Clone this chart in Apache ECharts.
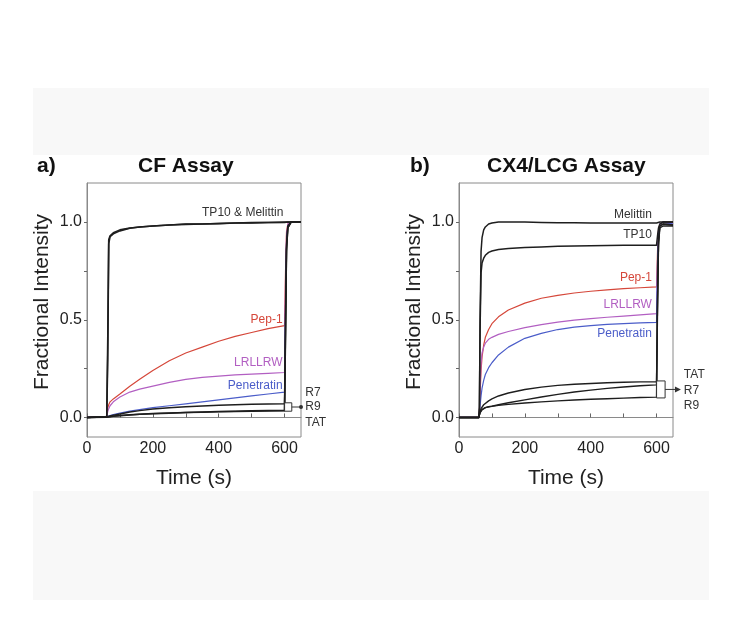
<!DOCTYPE html>
<html>
<head>
<meta charset="utf-8">
<script src="https://cdn.jsdelivr.net/npm/echarts@6/dist/echarts.min.js"></script>
<style>
  html, body { margin: 0; padding: 0; background: #fff; }
  #chart { width: 736px; height: 624px; }
</style>
</head>
<body>
<div id="chart"></div>
<script>
// time axis (s) for each panel
const timeA = [0, 60, 63, 66, 70, 80, 100, 130, 160, 200, 250, 300, 350, 400, 450, 500, 550, 600, 603, 606, 610, 620, 650];
const timeB = [0, 60, 62, 64, 67, 70, 75, 80, 90, 100, 120, 150, 200, 250, 300, 350, 400, 450, 500, 550, 600, 603, 606, 610, 620, 650];

// a) CF assay
const tp10A = [0, 0.005, 0.40, 0.91, 0.93, 0.945, 0.96, 0.97, 0.975, 0.98, 0.985, 0.99, 0.99, 0.993, 0.995, 0.997, 0.998, 1.0, 1.0, 1.0, 1.0, 1.0, 1.0];
const melittinA = [0, 0.005, 0.30, 0.89, 0.925, 0.94, 0.955, 0.968, 0.975, 0.98, 0.985, 0.988, 0.99, 0.992, 0.995, 0.996, 0.998, 0.998, 0.998, 0.999, 1.0, 1.0, 1.0];
const pep1A = [0, 0.005, 0.05, 0.065, 0.08, 0.095, 0.12, 0.16, 0.195, 0.24, 0.29, 0.33, 0.36, 0.39, 0.415, 0.435, 0.455, 0.47, 0.75, 0.95, 0.99, 1.0, 1.0];
const lrllrwA = [0, 0.005, 0.03, 0.045, 0.06, 0.08, 0.105, 0.13, 0.145, 0.16, 0.18, 0.195, 0.205, 0.212, 0.218, 0.222, 0.226, 0.23, 0.7, 0.93, 0.99, 1.0, 1.0];
const penetratinA = [0, 0.003, 0.005, 0.008, 0.01, 0.015, 0.022, 0.032, 0.04, 0.05, 0.06, 0.07, 0.08, 0.09, 0.1, 0.11, 0.12, 0.13, 0.6, 0.9, 0.98, 1.0, 1.0];
const r7A = [0, 0.003, 0.005, 0.007, 0.008, 0.012, 0.018, 0.028, 0.035, 0.043, 0.05, 0.055, 0.059, 0.062, 0.065, 0.067, 0.069, 0.07, 0.5, 0.88, 0.98, 1.0, 1.0];
const r9A = [0, 0.002, 0.003, 0.004, 0.005, 0.007, 0.01, 0.014, 0.017, 0.02, 0.023, 0.026, 0.028, 0.03, 0.032, 0.034, 0.035, 0.036, 0.45, 0.86, 0.97, 1.0, 1.0];
const tatA = [0, 0.001, 0.002, 0.003, 0.004, 0.006, 0.009, 0.013, 0.016, 0.019, 0.022, 0.025, 0.027, 0.029, 0.031, 0.032, 0.033, 0.034, 0.4, 0.85, 0.97, 1.0, 1.0];

// b) CX4/LCG assay
const melittinB = [0, 0, 0.05, 0.5, 0.85, 0.92, 0.96, 0.975, 0.99, 0.995, 1.0, 1.0, 1.0, 0.998, 0.997, 0.996, 0.995, 0.995, 0.995, 0.995, 0.995, 0.995, 0.998, 1.0, 1.0, 1.0];
const tp10B = [0, 0, 0.05, 0.45, 0.74, 0.79, 0.815, 0.83, 0.845, 0.852, 0.86, 0.865, 0.87, 0.873, 0.876, 0.878, 0.879, 0.88, 0.881, 0.882, 0.882, 0.93, 0.97, 0.99, 1.0, 1.0];
const pep1B = [0, 0, 0.03, 0.12, 0.24, 0.31, 0.37, 0.41, 0.45, 0.48, 0.515, 0.55, 0.585, 0.61, 0.625, 0.637, 0.646, 0.653, 0.659, 0.664, 0.668, 0.85, 0.96, 0.99, 1.0, 1.0];
const lrllrwB = [0, 0, 0.03, 0.15, 0.28, 0.33, 0.36, 0.38, 0.40, 0.41, 0.425, 0.44, 0.46, 0.475, 0.488, 0.498, 0.506, 0.513, 0.519, 0.525, 0.531, 0.8, 0.95, 0.99, 1.0, 0.99];
const penetratinB = [0, 0, 0.02, 0.06, 0.11, 0.15, 0.19, 0.22, 0.255, 0.28, 0.32, 0.36, 0.405, 0.43, 0.45, 0.462, 0.47, 0.476, 0.48, 0.484, 0.487, 0.8, 0.95, 0.99, 1.0, 0.99];
const tatB = [0, 0, 0.01, 0.03, 0.045, 0.055, 0.065, 0.075, 0.085, 0.095, 0.11, 0.125, 0.143, 0.155, 0.164, 0.17, 0.174, 0.178, 0.18, 0.182, 0.183, 0.6, 0.9, 0.98, 0.99, 0.985];
const r7B = [0, 0, 0.01, 0.025, 0.035, 0.04, 0.045, 0.05, 0.055, 0.058, 0.065, 0.075, 0.09, 0.105, 0.118, 0.13, 0.14, 0.149, 0.156, 0.162, 0.167, 0.6, 0.9, 0.98, 0.99, 0.985];
const r9B = [0, 0, 0.01, 0.025, 0.035, 0.04, 0.045, 0.05, 0.054, 0.057, 0.062, 0.067, 0.074, 0.08, 0.085, 0.089, 0.093, 0.096, 0.099, 0.102, 0.104, 0.55, 0.88, 0.97, 0.98, 0.98];

// tick labels
const xLabels = [0, 200, 400, 600];
const xTicks = [0, 100, 200, 300, 400, 500, 600];
const yLabels = [0, 0.5, 1.0];
const yTicks = [0, 0.25, 0.5, 0.75, 1.0];

const RED = '#d5473a', PURPLE = '#b25fc2', BLUE = '#4b5dc9', BLACK = '#1e1e1e';
const FONT = '"Liberation Sans", Arial, sans-serif';

// annotation text, anchored in data coordinates [time, value]
const notesA = [
  { text: 'TP10 & Melittin', at: [473, 1.05], color: '#333', align: 'center' },
  { text: 'Pep-1', at: [594, 0.50], color: RED, align: 'right' },
  { text: 'LRLLRW', at: [594, 0.28], color: PURPLE, align: 'right' },
  { text: 'Penetratin', at: [594, 0.161], color: BLUE, align: 'right' },
  { text: 'R7', at: [663, 0.125], color: '#333', align: 'left' },
  { text: 'R9', at: [663, 0.053], color: '#333', align: 'left' },
  { text: 'TAT', at: [663, -0.029], color: '#333', align: 'left' }
];
const notesB = [
  { text: 'Melittin', at: [586, 1.04], color: '#333', align: 'right' },
  { text: 'TP10', at: [586, 0.936], color: '#333', align: 'right' },
  { text: 'Pep-1', at: [586, 0.715], color: RED, align: 'right' },
  { text: 'LRLLRW', at: [586, 0.577], color: PURPLE, align: 'right' },
  { text: 'Penetratin', at: [586, 0.428], color: BLUE, align: 'right' },
  { text: 'TAT', at: [683, 0.217], color: '#333', align: 'left' },
  { text: 'R7', at: [683, 0.135], color: '#333', align: 'left' },
  { text: 'R9', at: [683, 0.058], color: '#333', align: 'left' }
];
// bracket boxes around the end of the R7/R9/TAT traces
const boxA = { t0: 600, t1: 622, v0: 0.032, v1: 0.075, arrowTo: 650 };
const boxB = { t0: 600, t1: 626, v0: 0.100, v1: 0.187, arrowTo: 662 };

function line(name, t, v, color, width, gi) {
  return {
    type: 'line', name: name, xAxisIndex: gi, yAxisIndex: gi,
    data: t.map((x, i) => [x, v[i]]),
    showSymbol: false, symbol: 'none', smooth: false,
    lineStyle: { color: color, width: width, join: 'round' },
    clip: true
  };
}

function xAxisFor(gi) {
  return {
    type: 'value', gridIndex: gi, min: 0, max: 650,
    name: 'Time (s)', nameLocation: 'middle', nameGap: 31,
    nameTextStyle: { fontSize: 21, color: '#222', fontFamily: FONT },
    axisLine: { lineStyle: { color: '#8a8a8a', width: 1 } },
    axisTick: { inside: true, length: 4, customValues: xTicks, lineStyle: { color: '#666' } },
    axisLabel: { customValues: xLabels, fontSize: 16, color: '#222', margin: 4, fontFamily: FONT },
    splitLine: { show: false }
  };
}
function yAxisFor(gi) {
  return {
    type: 'value', gridIndex: gi, min: -0.1, max: 1.2,
    name: 'Fractional Intensity', nameLocation: 'middle', nameGap: 34,
    nameTextStyle: { fontSize: 21, color: '#222', fontFamily: FONT, padding: [0, 0, 0, 16] },
    axisLine: { lineStyle: { color: '#8a8a8a', width: 1 } },
    axisTick: { inside: false, length: 3, customValues: yTicks, lineStyle: { color: '#666' } },
    axisLabel: { customValues: yLabels, fontSize: 16, color: '#222', margin: 5, fontFamily: FONT,
      formatter: v => v.toFixed(1) },
    splitLine: { show: false }
  };
}

const chart = echarts.init(document.getElementById('chart'), null, { renderer: 'canvas' });
const titleStyle = { fontSize: 21, fontWeight: 'bold', color: '#111', fontFamily: FONT };
chart.setOption({
  animation: false,
  backgroundColor: '#fff',
  textStyle: { fontFamily: FONT },
  title: [
    { text: 'a)', left: 37, top: 156, padding: 0, textStyle: titleStyle },
    { text: 'CF Assay', left: 138, top: 156, padding: 0, textStyle: titleStyle },
    { text: 'b)', left: 410, top: 156, padding: 0, textStyle: titleStyle },
    { text: 'CX4/LCG Assay', left: 487, top: 156, padding: 0, textStyle: titleStyle }
  ],
  grid: [
    { left: 87, top: 183, width: 214, height: 254, show: true, borderColor: '#8a8a8a', borderWidth: 1, backgroundColor: 'transparent' },
    { left: 459, top: 183, width: 214, height: 254, show: true, borderColor: '#8a8a8a', borderWidth: 1, backgroundColor: 'transparent' }
  ],
  xAxis: [xAxisFor(0), xAxisFor(1)],
  yAxis: [yAxisFor(0), yAxisFor(1)],
  series: [
    line('Pep-1', timeA, pep1A, RED, 1.2, 0),
    line('LRLLRW', timeA, lrllrwA, PURPLE, 1.2, 0),
    line('Penetratin', timeA, penetratinA, BLUE, 1.2, 0),
    line('R7', timeA, r7A, BLACK, 1.5, 0),
    line('R9', timeA, r9A, BLACK, 1.5, 0),
    line('TAT', timeA, tatA, BLACK, 1.5, 0),
    line('Melittin', timeA, melittinA, BLACK, 1.6, 0),
    line('TP10', timeA, tp10A, BLACK, 1.6, 0),

    line('Pep-1', timeB, pep1B, RED, 1.2, 1),
    line('LRLLRW', timeB, lrllrwB, PURPLE, 1.2, 1),
    line('Penetratin', timeB, penetratinB, BLUE, 1.2, 1),
    line('TAT', timeB, tatB, BLACK, 1.4, 1),
    line('R7', timeB, r7B, BLACK, 1.4, 1),
    line('R9', timeB, r9B, BLACK, 1.4, 1),
    line('TP10', timeB, tp10B, BLACK, 1.5, 1),
    line('Melittin', timeB, melittinB, BLACK, 1.5, 1)
  ]
});

// annotations: converted from data coordinates to pixels
const px = (gi, p) => chart.convertToPixel({ xAxisIndex: gi, yAxisIndex: gi }, p);
const graphics = [
  { type: 'rect', shape: { x: 33, y: 88, width: 676, height: 67 }, style: { fill: '#f8f8f8' }, z: -10, silent: true },
  { type: 'rect', shape: { x: 33, y: 491, width: 676, height: 109 }, style: { fill: '#f8f8f8' }, z: -10, silent: true }
];
function addNotes(gi, notes) {
  notes.forEach(n => {
    const p = px(gi, n.at);
    graphics.push({
      type: 'text', x: p[0], y: p[1], z: 10,
      style: { text: n.text, fill: n.color, font: '12px ' + FONT, textAlign: n.align, textVerticalAlign: 'middle' }
    });
  });
}
function addBox(gi, b, arrowHead) {
  const a = px(gi, [b.t0, b.v1]), c = px(gi, [b.t1, b.v0]);
  const mid = (a[1] + c[1]) / 2;
  const end = px(gi, [b.arrowTo, 0])[0];
  graphics.push({ type: 'rect', z: 10, shape: { x: a[0], y: a[1], width: c[0] - a[0], height: c[1] - a[1] },
    style: { fill: 'rgba(255,255,255,0.9)', stroke: '#333', lineWidth: 1 } });
  graphics.push({ type: 'line', z: 10, shape: { x1: c[0], y1: mid, x2: end, y2: mid }, style: { stroke: '#333', lineWidth: 1 } });
  if (arrowHead) {
    graphics.push({ type: 'polygon', z: 10, shape: { points: [[end + 4, mid], [end - 2, mid - 3], [end - 2, mid + 3]] }, style: { fill: '#333' } });
  } else {
    graphics.push({ type: 'circle', z: 10, shape: { cx: end, cy: mid, r: 2 }, style: { fill: '#333' } });
  }
}
addNotes(0, notesA);
addNotes(1, notesB);
addBox(0, boxA, false);
addBox(1, boxB, true);
chart.setOption({ graphic: graphics });
</script>
</body>
</html>
